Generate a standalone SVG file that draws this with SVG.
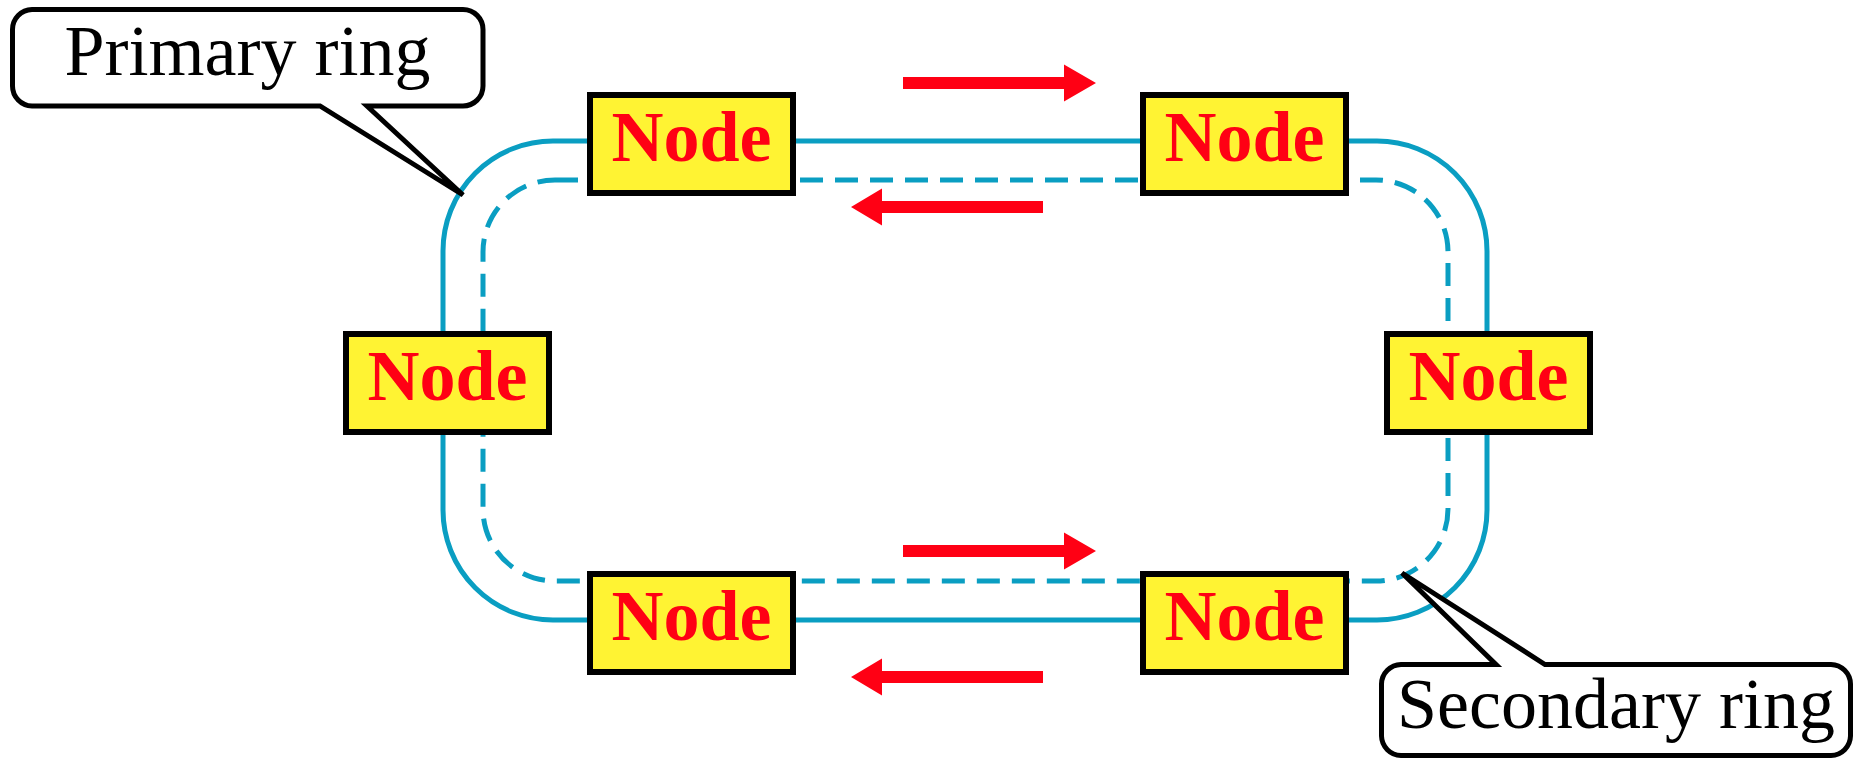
<svg xmlns="http://www.w3.org/2000/svg" width="1865" height="761" viewBox="0 0 1865 761">
<style>
.ring{fill:none;stroke:#0a9ec2;stroke-width:5}
.dash{stroke-dasharray:23 12}
.node rect{fill:#fff333;stroke:#000;stroke-width:6}
.node text{font-family:"Liberation Serif","Times New Roman",serif;font-weight:bold;font-size:72px;fill:#ff0014;text-anchor:middle}
.arrow{fill:#ff0014}
.callout path{fill:#fff;stroke:#000;stroke-width:5;stroke-linejoin:miter}
.callout text{font-family:"Liberation Serif","Times New Roman",serif;font-size:72px;fill:#000;text-anchor:middle}
</style>
<rect width="1865" height="761" fill="#fff"/>
<g id="connectors">
<rect class="ring" x="443" y="141" width="1044" height="479" rx="110" ry="110"/>
<rect class="ring dash" x="483" y="180" width="965" height="401" rx="72" ry="72"/>
</g>
<g id="arrows">
<path class="arrow" d="M903,77 H1064 V64.5 L1096,83 L1064,101.5 V89 H903 Z"/>
<path class="arrow" d="M1043,201 H882 V188.5 L851,207 L882,225.5 V213 H1043 Z"/>
<path class="arrow" d="M903,545 H1064 V532.5 L1096,551 L1064,569.5 V557 H903 Z"/>
<path class="arrow" d="M1043,671 H882 V658.5 L851,677 L882,695.5 V683 H1043 Z"/>
</g>
<g id="node-top-left" class="node"><rect x="590" y="95" width="203" height="98"/><text x="691.5" y="161">Node</text></g>
<g id="node-top-right" class="node"><rect x="1143" y="95" width="203" height="98"/><text x="1244.5" y="161">Node</text></g>
<g id="node-left" class="node"><rect x="346" y="334" width="203" height="98"/><text x="447.5" y="400">Node</text></g>
<g id="node-right" class="node"><rect x="1387" y="334" width="203" height="98"/><text x="1488.5" y="400">Node</text></g>
<g id="node-bottom-left" class="node"><rect x="590" y="574" width="203" height="98"/><text x="691.5" y="640">Node</text></g>
<g id="node-bottom-right" class="node"><rect x="1143" y="574" width="203" height="98"/><text x="1244.5" y="640">Node</text></g>
<g id="callout-primary" class="callout">
<path d="M32,9.5 H463 A20,20 0 0 1 483,29.5 V86 A20,20 0 0 1 463,106 H367 L463,195 L320,106 H32 A20,20 0 0 1 12.5,86 V29.5 A20,20 0 0 1 32,9.5 Z"/>
<text x="247.5" y="75">Primary ring</text>
</g>
<g id="callout-secondary" class="callout">
<path d="M1401,664.5 H1496 L1402,573 L1545,664.5 H1831 A20,20 0 0 1 1850.5,684 V736 A20,20 0 0 1 1831,755.5 H1401 A20,20 0 0 1 1381.5,736 V684 A20,20 0 0 1 1401,664.5 Z"/>
<text x="1616" y="728">Secondary ring</text>
</g>
</svg>
